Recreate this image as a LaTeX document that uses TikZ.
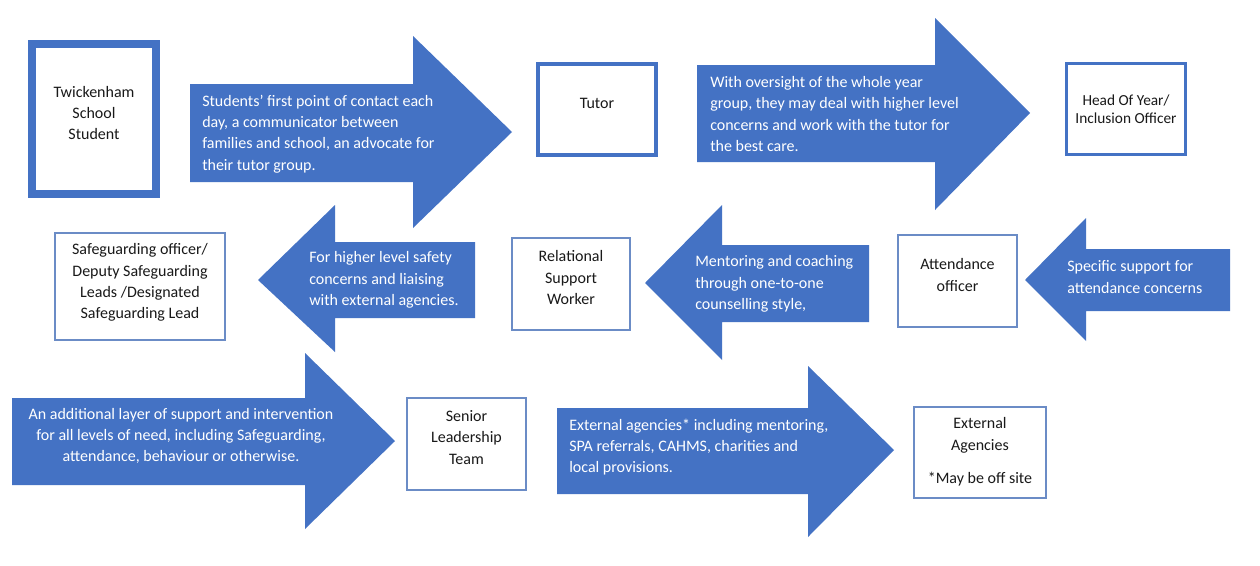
\documentclass[tikz,border=0pt]{standalone}
\usepackage{fontspec}
\setmainfont{Carlito}
\definecolor{officeblue}{HTML}{4472C4}
\definecolor{boxline}{HTML}{6B8CC6}
\tikzset{
  arrowfill/.style={fill=officeblue},
  arrowtext/.style={text=white, align=left, inner sep=0pt,
    font=\fontsize{12pt}{16pt}\selectfont},
  boxtext/.style={align=center, inner sep=0pt, text=black!90,
    font=\fontsize{12pt}{16pt}\selectfont},
  thickbox/.style={draw=officeblue, line width=6pt},
  midbox/.style={draw=officeblue, line width=3pt},
  thinbox/.style={draw=boxline, line width=0.8pt}
}
\begin{document}
\begin{tikzpicture}[x=0.75pt,y=-0.75pt]
  \fill[white] (0,0) rectangle (1260,565);
  \useasboundingbox (0,0) rectangle (1260,565);
  % block arrows: tail x / neck x / tip x / tip y / shaft top / shaft bottom / head top / head bottom
  \foreach \xa/\xb/\xc/\yc/\ya/\yb/\yd/\ye in {
      190/413/512/132/84/182/36/228,
      697/935/1030/113/65/162/18/210,
      475/335/258/280/242/318/205/352,
      869/722/645/283/245/322/205/360,
      1230/1086/1025/280/249/311/218/341,
      12/305/395/441/398/485/353/529,
      557/808/894/450/408/494/366/537} {
    \fill[arrowfill] (\xa,\ya) -- (\xb,\ya) -- (\xb,\yd) -- (\xc,\yc)
      -- (\xb,\ye) -- (\xb,\yb) -- (\xa,\yb) -- cycle;
  }
  % boxes
  \node[thickbox, minimum width=93pt, minimum height=112.5pt] (student) at (94,119) {};
  \node[midbox, minimum width=88.5pt, minimum height=68.25pt] (tutor) at (597,109.5) {};
  \node[midbox, line width=2.25pt, minimum width=89.25pt, minimum height=68.25pt] (hoy) at (1126,109) {};
  \node[thinbox, minimum width=127.5pt, minimum height=80.25pt] (safe) at (140,286.5) {};
  \node[thinbox, minimum width=88.5pt, minimum height=69pt] (rsw) at (571,284) {};
  \node[thinbox, minimum width=89.25pt, minimum height=69pt] (attend) at (957.5,281) {};
  \node[thinbox, minimum width=89.25pt, minimum height=69pt] (slt) at (466.5,444) {};
  \node[thinbox, minimum width=99pt, minimum height=68.25pt] (ext) at (980,452.5) {};
  % box labels
  \node[boxtext] (studentlbl) at ([yshift=4.5pt]student.center) {Twickenham\\School\\Student};
  \node[boxtext] (tutorlbl) at ([yshift=4.8pt]tutor.center) {Tutor};
  \node[boxtext, font=\fontsize{11.5pt}{13.5pt}\selectfont] (hoylbl) at ([yshift=-0.5pt]hoy.center)
    {Head Of Year/\\Inclusion Officer};
  \node[boxtext] (safelbl) at ([yshift=3pt]safe.center)
    {Safeguarding officer/\\Deputy Safeguarding\\Leads /Designated\\Safeguarding Lead};
  \node[boxtext] (rswlbl) at ([yshift=4.8pt]rsw.center) {Relational\\Support\\Worker};
  \node[boxtext] (attendlbl) at ([yshift=4.5pt]attend.center) {Attendance\\officer};
  \node[boxtext] (sltlbl) at ([yshift=5pt]slt.center) {Senior\\Leadership\\Team};
  \node[boxtext] (extlbl) at ([yshift=0.5pt]ext.center) {External\\Agencies\\[9pt]*May be off site};
  % arrow texts
  \node[arrowtext, anchor=west] (tstudent) at (202,134)
    {Students’ first point of contact each\\day, a communicator between\\families and school, an advocate for\\their tutor group.};
  \node[arrowtext, anchor=west] (ttutor) at (710,114)
    {With oversight of the whole year\\group, they may deal with higher level\\concerns and work with the tutor for\\the best care.};
  \node[arrowtext, anchor=west] (tsafe) at (309,280)
    {For higher level safety\\concerns and liaising\\with external agencies.};
  \node[arrowtext, anchor=west] (trsw) at (695,284)
    {Mentoring and coaching\\through one-to-one\\counselling style,};
  \node[arrowtext, anchor=west] (tattend) at (1067,277)
    {Specific support for\\attendance concerns};
  \node[arrowtext, align=center] (tslt) at (181,436)
    {An additional layer of support and intervention\\for all levels of need, including Safeguarding,\\attendance, behaviour or otherwise.};
  \node[arrowtext, anchor=west] (text) at (569,447)
    {External agencies* including mentoring,\\SPA referrals, CAHMS, charities and\\local provisions.};
\end{tikzpicture}
\end{document}
